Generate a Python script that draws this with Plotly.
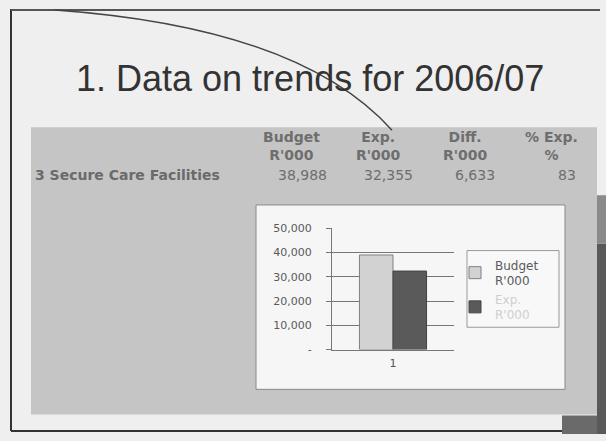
import plotly.graph_objects as go

# ---- data ----
title_text = "1. Data on trends for 2006/07"
table_headers = ["Budget<br>R'000", "Exp.<br>R'000", "Diff.<br>R'000", "% Exp.<br>%"]
row_label = "3 Secure Care Facilities"
row_values = [38988, 32355, 6633, 83]

categories = ["1"]
budget_values = [38988]
exp_values = [32355]
series_names = ["Budget<br>R'000", "Exp.<br>R'000"]

y_tickvals = [0, 10000, 20000, 30000, 40000, 50000]
y_ticktext = ["-", "10,000", "20,000", "30,000", "40,000", "50,000"]

W, H = 606, 441


def px(x):
    return x / W


def py(y):
    return 1 - y / H


fig = go.Figure()
fig.add_trace(go.Bar(x=categories, y=budget_values, name=series_names[0],
                     marker=dict(color="#d2d2d2", line=dict(color="#808080", width=1))))
fig.add_trace(go.Bar(x=categories, y=exp_values,
                     name="<span style='color:#cfcfcf'>" + series_names[1] + "</span>",
                     marker=dict(color="#5a5a5a", line=dict(color="#444", width=1))))

shapes = []
# gray panel
shapes.append(dict(type="rect", xref="paper", yref="paper", x0=px(31), x1=px(597), y0=py(421), y1=py(125),
                   fillcolor="#c5c5c5", line=dict(width=0), layer="below"))
# chart white box
shapes.append(dict(type="rect", xref="paper", yref="paper", x0=px(256), x1=px(565), y0=py(395), y1=py(205),
                   fillcolor="#f6f6f6", line=dict(color="#8a8a8a", width=1), layer="below"))
# legend box
shapes.append(dict(type="rect", xref="paper", yref="paper", x0=px(467), x1=px(559), y0=py(331), y1=py(252),
                   fillcolor="#f8f8f8", line=dict(color="#999", width=1), layer="below"))
# right dark shadow
shapes.append(dict(type="rect", xref="paper", yref="paper", x0=px(597), x1=1, y0=0, y1=py(245),
                   fillcolor="#595959", line=dict(width=0), layer="below"))
shapes.append(dict(type="rect", xref="paper", yref="paper", x0=px(597), x1=1, y0=py(245), y1=py(195),
                   fillcolor="#8a8a8a", line=dict(width=0), layer="below"))
shapes.append(dict(type="rect", xref="paper", yref="paper", x0=px(562), x1=px(597), y0=0, y1=py(422),
                   fillcolor="#6a6a6a", line=dict(width=0), layer="below"))
# slide frame
shapes.append(dict(type="line", xref="paper", yref="paper", x0=px(11), x1=px(11), y0=py(438), y1=py(3),
                   line=dict(color="#333", width=2)))
shapes.append(dict(type="line", xref="paper", yref="paper", x0=px(11), x1=px(600), y0=py(4), y1=py(4),
                   line=dict(color="#555", width=2)))
shapes.append(dict(type="line", xref="paper", yref="paper", x0=px(11), x1=px(562), y0=py(438), y1=py(438),
                   line=dict(color="#333", width=2)))
# curved stroke
path = "M {} {} Q {} {} {} {}".format(px(55), py(4), px(300), py(22), px(392), py(128))
shapes.append(dict(type="path", xref="paper", yref="paper", path=path,
                   line=dict(color="#444", width=1.5)))

annotations = []
annotations.append(dict(text=title_text, xref="paper", yref="paper", x=px(310), y=py(75),
                        showarrow=False, font=dict(size=36, color="#333", family="Liberation Sans, Arial"),
                        xanchor="center", yanchor="middle"))
header_centers = [291, 378, 465, 551]
value_right = [329, 415, 497, 578]
tfont = "DejaVu Sans"
for h, cx in zip(table_headers, header_centers):
    annotations.append(dict(text="<b>" + h + "</b>", xref="paper", yref="paper", x=px(cx), y=py(144),
                            showarrow=False, font=dict(size=14, color="#6e6e6e", family=tfont),
                            xanchor="center", yanchor="middle"))
annotations.append(dict(text="<b>" + row_label + "</b>", xref="paper", yref="paper", x=px(33), y=py(174),
                        showarrow=False, font=dict(size=14, color="#6a6a6a", family=tfont),
                        xanchor="left", yanchor="middle"))
for v, rx in zip(row_values, value_right):
    annotations.append(dict(text="{:,}".format(v), xref="paper", yref="paper", x=px(rx), y=py(174),
                            showarrow=False, font=dict(size=14, color="#6e6e6e", family=tfont),
                            xanchor="right", yanchor="middle"))

fig.update_layout(
    width=W, height=H, margin=dict(l=0, r=0, t=0, b=0),
    paper_bgcolor="#efefef", plot_bgcolor="#c3c3c3",
    barmode="group", bargap=0.45, bargroupgap=0,
    showlegend=True,
    legend=dict(x=px(455), y=py(252), xanchor="left", yanchor="top", bgcolor="rgba(0,0,0,0)",
                font=dict(size=12, color="#5a5a5a", family=tfont), tracegroupgap=6, itemwidth=30),
    xaxis=dict(domain=[px(332), px(454)], showgrid=False, showline=True, linecolor="#777",
               tickfont=dict(size=11, color="#555", family=tfont), ticks="", ticklabelstandoff=3),
    yaxis=dict(domain=[py(354), py(229)], range=[0, 50000], tickvals=y_tickvals, ticktext=y_ticktext,
               showgrid=True, gridcolor="#767676", gridwidth=1, showline=True, linecolor="#777",
               ticks="outside", ticklen=5, tickcolor="#777", zeroline=False, ticklabelstandoff=12,
               tickfont=dict(size=11, color="#5a5a5a", family=tfont)),
    shapes=shapes, annotations=annotations,
)
fig.write_html("out.html", config={"displayModeBar": False},
               post_script="document.body.style.margin='0';document.body.style.overflow='hidden';")
